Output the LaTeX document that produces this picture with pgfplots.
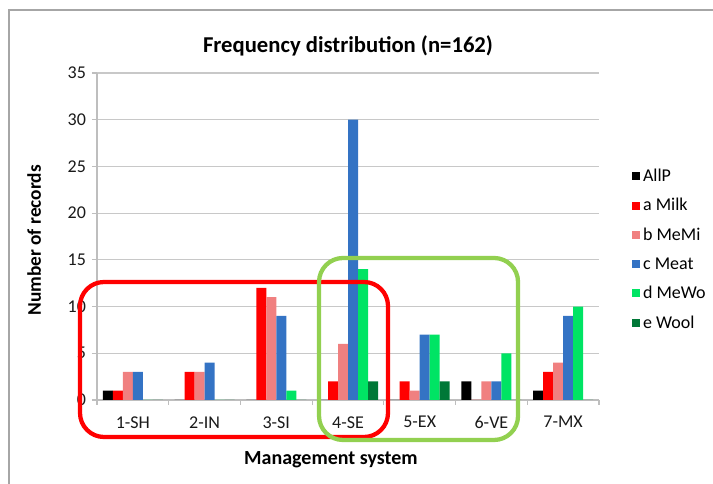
\documentclass[border=0pt]{standalone}
\usepackage{pgfplots}
\pgfplotsset{compat=1.18}
\usepackage{pgfplotstable}
\usepackage{fontspec}
\setmainfont{Carlito}
\definecolor{cAllP}{RGB}{0,0,0}
\definecolor{cMilk}{RGB}{255,0,0}
\definecolor{cMeMi}{RGB}{240,128,128}
\definecolor{cMeat}{RGB}{52,115,196}
\definecolor{cMeWo}{RGB}{0,228,100}
\definecolor{cWool}{RGB}{0,120,55}
\definecolor{gridc}{RGB}{200,200,200}
\definecolor{axc}{RGB}{190,190,190}
\definecolor{redbox}{RGB}{255,0,0}
\definecolor{greenbox}{RGB}{146,208,80}
\pgfplotstableread{
x AllP Milk MeMi Meat MeWo Wool
0 1 1 3 3 0 0
1 0 3 3 4 0 0
2 0 12 11 9 1 0
3 0 2 6 30 14 2
4 0 2 1 7 7 2
5 2 0 2 2 5 0
6 1 3 4 9 10 0
}\data
\begin{document}
\begin{tikzpicture}
\useasboundingbox (-72.75pt,-63pt) rectangle (462pt,300pt);
\draw[gray!70, line width=0.9pt] (-66pt,-70pt) -- (-66pt,292.5pt) -- (470pt,292.5pt);
\begin{axis}[
  scale only axis,
  width=376.5pt, height=245.25pt,
  clip=false,
  ybar=0pt, bar width=7.5pt,
  xmin=-0.5, xmax=6.5,
  ymin=0, ymax=35,
  ytick={0,5,...,35},
  xtick={0,...,6},
  xticklabels={1-SH,2-IN,3-SI,4-SE,5-EX,6-VE,7-MX},
  minor xtick={-0.5,0.5,...,6.5},
  major x tick style={draw=none},
  minor x tick style={draw=axc, line width=0.8pt},
  major y tick style={draw=axc, line width=0.8pt},
  tick align=outside,
  major tick length=3.75pt, minor tick length=3.75pt,
  axis lines*=left,
  axis line style={draw=axc, line width=0.8pt},
  ymajorgrids, grid style={draw=gridc, line width=0.8pt},
  tick label style={font=\fontsize{13.5pt}{15pt}\selectfont, text=black!90},
  xticklabel style={yshift=-5pt},
  yticklabel style={xshift=-1pt},
  /pgf/number format/assume math mode=true,
  title={Frequency distribution (n=162)},
  title style={font=\bfseries\fontsize{17pt}{20pt}\selectfont, at={(axis description cs:0.5,1.058)}, anchor=center, yshift=0pt},
  xlabel={Management system},
  xlabel style={font=\bfseries\fontsize{15pt}{17pt}\selectfont, at={(axis description cs:0.466,-0.1835)}, anchor=center, yshift=0pt},
  ylabel={Number of records},
  ylabel style={font=\bfseries\fontsize{14.5pt}{17pt}\selectfont, at={(axis description cs:-0.125,0.488)}, anchor=center},
  legend style={draw=none, fill=none, at={(axis description cs:1.066,0.716)}, anchor=north west,
    font=\fontsize{13.5pt}{15pt}\selectfont, row sep=7.3pt, inner sep=0pt,
    nodes={inner sep=2pt}},
  legend cell align=left,
  legend image code/.code={\fill[#1] (0pt,-3pt) rectangle (6pt,3pt);},
]
\addplot[draw=none, fill=cAllP] table[x=x, y=AllP] {\data};
\addplot[draw=none, fill=cMilk] table[x=x, y=Milk] {\data};
\addplot[draw=none, fill=cMeMi] table[x=x, y=MeMi] {\data};
\addplot[draw=none, fill=cMeat] table[x=x, y=Meat] {\data};
\addplot[draw=none, fill=cMeWo] table[x=x, y=MeWo] {\data};
\addplot[draw=none, fill=cWool] table[x=x, y=Wool] {\data};
\legend{AllP, a Milk, b MeMi, c Meat, d MeWo, e Wool}
\draw[redbox, line width=3.2pt, rounded corners=18pt] (axis cs:-0.737,-3.96) rectangle (axis cs:3.558,12.63);
\draw[greenbox, line width=3.2pt, rounded corners=18pt] (axis cs:2.596,-4.28) rectangle (axis cs:5.371,15.20);
\end{axis}
\end{tikzpicture}
\end{document}
